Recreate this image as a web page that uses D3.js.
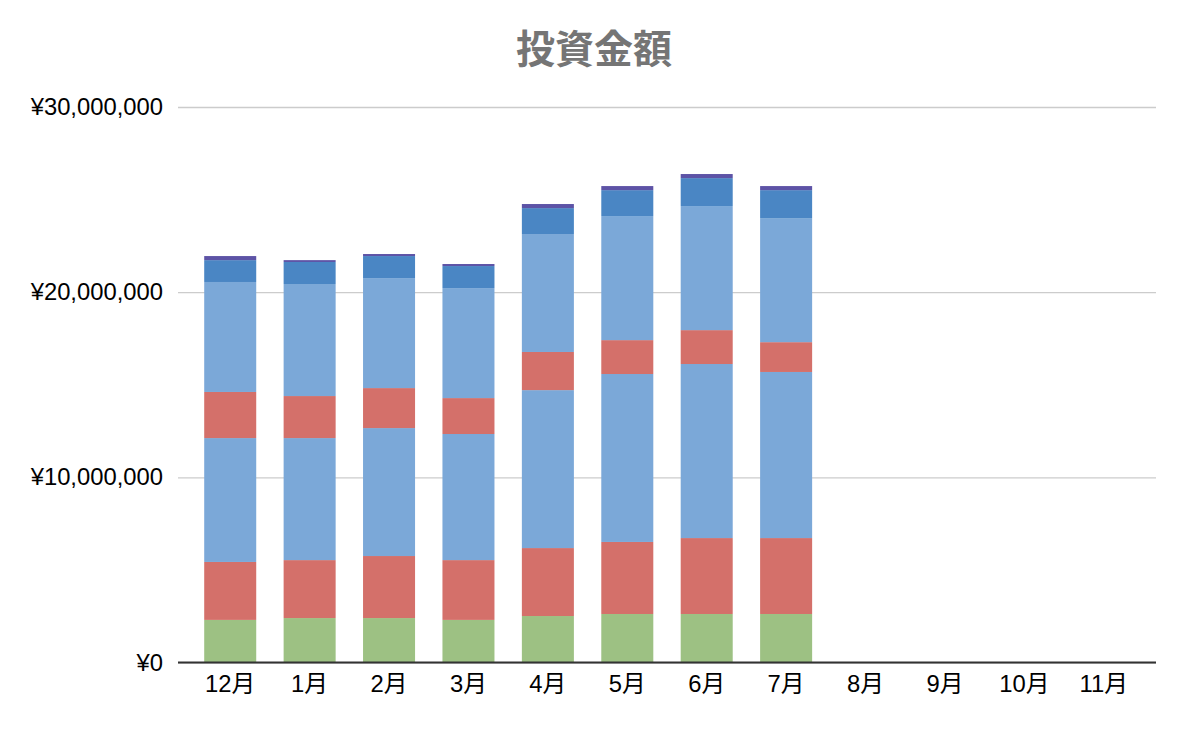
<!DOCTYPE html>
<html>
<head>
<meta charset="utf-8">
<script src="https://cdn.jsdelivr.net/npm/d3@7"></script>
<style>
  body { margin: 0; background: #fff; }
  text { font-family: "Liberation Sans", Arial, "Noto Sans CJK JP", sans-serif; }
</style>
</head>
<body>
<div class="canvas"></div>
<script>
/////////////////////////////////
//** DATA **//

const months = ['12月', '1月', '2月', '3月', '4月', '5月', '6月', '7月', '8月', '9月', '10月', '11月'];
const yTicks = [0, 10000000, 20000000, 30000000];

// stacked from the bottom up (8月 - 11月 have no data yet)
const seriesKeys = ['s1', 's2', 's3', 's4', 's5', 's6', 's7'];
const s1 = [2300000, 2400000, 2400000, 2300000, 2510000, 2620000, 2620000, 2620000];
const s2 = [3130000, 3130000, 3350000, 3230000, 3670000, 3890000, 4100000, 4100000];
const s3 = [6690000, 6590000, 6910000, 6810000, 8530000, 9070000, 9400000, 8970000];
const s4 = [2490000, 2270000, 2160000, 1940000, 2060000, 1830000, 1830000, 1610000];
const s5 = [5940000, 6050000, 5940000, 5940000, 6370000, 6700000, 6700000, 6700000];
const s6 = [1180000, 1190000, 1190000, 1190000, 1400000, 1400000, 1510000, 1510000];
const s7 = [220000, 100000, 110000, 110000, 220000, 220000, 220000, 220000];
const seriesValues = [s1, s2, s3, s4, s5, s6, s7];

const colours = ['#9dc183', '#d4706a', '#7ba8d8', '#d4706a', '#7ba8d8', '#4a86c4', '#5d53a6'];

/////////////////////////////////
//** DIMENSIONS **//

const dims = { width: 1182, height: 734 };
const plot = { left: 178, right: 1156, top: 107, bottom: 662.5 };

const svg = d3.select('.canvas')
    .append('svg')
    .attr('width', dims.width)
    .attr('height', dims.height);

// table the stack needs: one row per month
const rows = months.map((m, i) => {
    const row = { month: m };
    seriesKeys.forEach((k, j) => { row[k] = seriesValues[j][i] || 0; });
    return row;
});

const x = d3.scaleBand()
    .domain(months)
    .range([plot.left, plot.right])
    .paddingInner(0.345)
    .paddingOuter(0.33);

const y = d3.scaleLinear()
    .domain([0, 30000000])
    .range([plot.bottom, plot.top]);

/////////////////////////////////
//** TITLE **//

svg.append('text')
    .attr('x', 594)
    .attr('y', 63)
    .attr('text-anchor', 'middle')
    .attr('fill', '#757575')
    .attr('font-size', 39)
    .attr('font-weight', 'bold')
    .style('font-family', '"Noto Sans CJK JP", sans-serif')
    .text('投資金額');

/////////////////////////////////
//** GRID + Y AXIS **//

const yAxis = d3.axisLeft(y)
    .tickValues(yTicks)
    .tickSize(-(plot.right - plot.left))
    .tickPadding(15)
    .tickFormat(d => '¥' + d3.format(',')(d));

const yG = svg.append('g')
    .attr('transform', `translate(${plot.left}, 0)`)
    .call(yAxis);

yG.select('.domain').remove();
yG.selectAll('.tick line')
    .attr('stroke', '#cccccc')
    .attr('stroke-width', 1.3);
yG.selectAll('.tick text')
    .attr('fill', '#000')
    .attr('font-size', 23.8);

/////////////////////////////////
//** BARS **//

const stack = d3.stack().keys(seriesKeys);

svg.append('g')
    .selectAll('g')
    .data(stack(rows))
    .enter()
    .append('g')
    .attr('fill', (d, i) => colours[i])
    .selectAll('rect')
    .data(d => d.filter(p => p[1] > p[0]))
    .enter()
    .append('rect')
    .attr('x', d => x(d.data.month))
    .attr('width', x.bandwidth())
    .attr('y', d => y(d[1]))
    .attr('height', d => y(d[0]) - y(d[1]));

/////////////////////////////////
//** X AXIS **//

const xAxis = d3.axisBottom(x)
    .tickSize(0)
    .tickPadding(13);

const xG = svg.append('g')
    .attr('transform', `translate(0, ${plot.bottom})`)
    .call(xAxis);

xG.select('.domain')
    .attr('d', `M${plot.left},0H${plot.right}`)
    .attr('stroke', '#333')
    .attr('stroke-width', 2);
xG.selectAll('.tick text')
    .attr('fill', '#000')
    .attr('font-size', 23.8);
</script>
</body>
</html>
